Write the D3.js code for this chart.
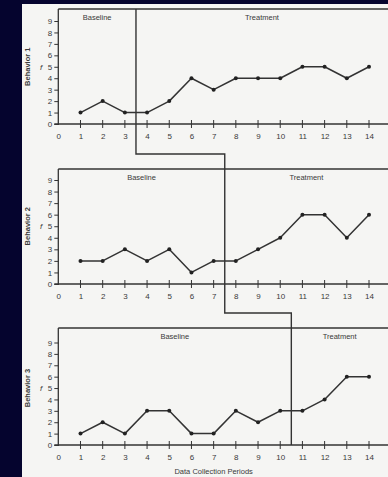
<!DOCTYPE html>
<html><head><meta charset="utf-8">
<script src="https://cdn.jsdelivr.net/npm/d3@7"></script>
<style>
html,body{margin:0;padding:0;background:#05042e;}
svg{display:block;}
text{font-family:"Liberation Sans",Arial,sans-serif;fill:#3a3a3a;}
</style></head>
<body>
<svg id="c" width="388" height="477"></svg>
<script>
const periods = [1,2,3,4,5,6,7,8,9,10,11,12,13,14];
const behavior1 = [1,2,1,1,2,4,3,4,4,4,5,5,4,5];
const behavior2 = [2,2,3,2,3,1,2,2,3,4,6,6,4,6];
const behavior3 = [1,2,1,3,3,1,1,3,2,3,3,4,6,6];
const seriesNames = ["Behavior 1","Behavior 2","Behavior 3"];
const phaseChanges = [3.5, 7.5, 10.5];
const phaseLabels = ["Baseline","Treatment"];
const xTicks = d3.range(0,15);
const yTicks = d3.range(0,10);
const xTitle = "Data Collection Periods";

const svg = d3.select("#c");
svg.append("rect").attr("x",0).attr("y",0).attr("width",388).attr("height",477).attr("fill","#05042e");
svg.append("rect").attr("x",22).attr("y",4).attr("width",366).attr("height",473).attr("fill","#f5f5f3");

const x = d3.scaleLinear().domain([0,14]).range([58.3,369]);
const panels = [
  {data:behavior1, top:9,   y0:124, y9:21},
  {data:behavior2, top:169, y0:284, y9:180},
  {data:behavior3, top:328, y0:445, y9:342.5}
];
const ink = "#333";
const txt = "#3a3a3a";

panels.forEach((p,i)=>{
  const y = d3.scaleLinear().domain([0,9]).range([p.y0,p.y9]);
  const g = svg.append("g");
  g.append("line").attr("x1",x(0)).attr("x2",388).attr("y1",p.top).attr("y2",p.top).attr("stroke",ink).attr("stroke-width",1.4);
  g.append("line").attr("x1",x(0)).attr("x2",x(0)).attr("y1",p.top).attr("y2",p.y0+1).attr("stroke",ink).attr("stroke-width",1.3);
  const xa = d3.axisBottom(x).tickValues(xTicks).tickSize(0).tickPadding(9);
  const gx = g.append("g").attr("transform",`translate(0,${p.y0})`).call(xa);
  gx.select(".domain").remove();
  gx.append("line").attr("x1",x(0)-4).attr("x2",388).attr("y1",0).attr("y2",0).attr("stroke",ink).attr("stroke-width",1.4);
  gx.selectAll("text").attr("font-size",8).style("fill",txt);
  g.selectAll(".xt").data(periods).join("line")
    .attr("x1",d=>x(d)).attr("x2",d=>x(d)).attr("y1",p.y0-4).attr("y2",p.y0+4)
    .attr("stroke",ink).attr("stroke-width",1);
  const ya = d3.axisLeft(y).tickValues(yTicks).tickSize(4).tickPadding(2);
  const gy = g.append("g").attr("transform",`translate(${x(0)},0)`).call(ya);
  gy.select(".domain").remove();
  gy.selectAll("line").attr("stroke",ink);
  gy.selectAll("text").attr("font-size",8).style("fill",txt);
  g.append("text").attr("transform",`translate(30,${y(5)}) rotate(-90)`).attr("text-anchor","middle")
    .attr("font-size",7.5).attr("font-weight","bold").style("fill",txt).text(seriesNames[i]);
  g.append("text").attr("x",41).attr("y",y(5)+3).attr("text-anchor","middle").attr("font-size",8).attr("font-style","italic").style("fill",txt).text("f");
  const baseMid = (x(0)+x(phaseChanges[i]))/2;
  const treatMid = (x(phaseChanges[i])+388)/2;
  g.append("text").attr("x",baseMid).attr("y",p.top+11).attr("text-anchor","middle").attr("font-size",7.5).style("fill",txt).text(phaseLabels[0]);
  g.append("text").attr("x",treatMid).attr("y",p.top+11).attr("text-anchor","middle").attr("font-size",7.5).style("fill",txt).text(phaseLabels[1]);
  const line = d3.line().x((d,j)=>x(periods[j])).y(d=>y(d));
  g.append("path").datum(p.data).attr("d",line).attr("fill","none").attr("stroke",ink).attr("stroke-width",1.5).attr("stroke-linejoin","round");
  g.selectAll(".pt").data(p.data).join("circle")
    .attr("cx",(d,j)=>x(periods[j])).attr("cy",d=>y(d)).attr("r",2).attr("fill","#222");
});

const stepYs = [154, 313];
const pts = [
  [x(phaseChanges[0]), panels[0].top],
  [x(phaseChanges[0]), stepYs[0]],
  [x(phaseChanges[1]), stepYs[0]],
  [x(phaseChanges[1]), stepYs[1]],
  [x(phaseChanges[2]), stepYs[1]],
  [x(phaseChanges[2]), panels[2].y0]
];
svg.append("path").attr("d",d3.line()(pts)).attr("fill","none").attr("stroke",ink).attr("stroke-width",1.4);

svg.append("text").attr("x",x(7)).attr("y",474).attr("text-anchor","middle").attr("font-size",7.5).style("fill",txt).text(xTitle);
</script>
</body></html>
